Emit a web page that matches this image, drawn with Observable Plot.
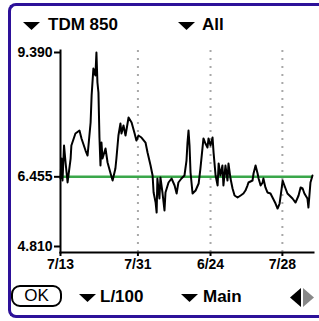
<!DOCTYPE html>
<html><head><meta charset="utf-8">
<script src="https://cdn.jsdelivr.net/npm/d3@7"></script>
<script src="https://cdn.jsdelivr.net/npm/@observablehq/plot@0.6"></script>
<style>
html,body{margin:0;padding:0;background:#fff;width:319px;height:321px;overflow:hidden;}
#wrap{position:relative;width:319px;height:321px;font-family:"Liberation Sans",Arial,sans-serif;font-weight:bold;color:#000;overflow:hidden;}
#border{position:absolute;left:8px;top:3px;width:330px;height:309px;border:3px solid #2d1199;border-right:none;border-radius:8px 0 0 8px;}
#chart{position:absolute;left:0;top:0;}
.t{position:absolute;font-size:17px;line-height:17px;white-space:nowrap;}
.tri{position:absolute;}
#ok{position:absolute;left:11px;top:285px;width:47px;height:18px;border:2px solid #000;border-radius:9px;font-size:17px;line-height:18px;text-align:center;font-weight:normal;}
</style></head>
<body>
<div id="wrap">
  <div id="border"></div>
  <div id="chart"></div>
  <svg class="tri" style="left:23px;top:22px" width="17" height="8"><polygon points="0,0 17,0 8.5,8" fill="#000"/></svg>
  <div class="t" id="hdr1" style="left:48px;top:16px"></div>
  <svg class="tri" style="left:178px;top:22px" width="17" height="8"><polygon points="0,0 17,0 8.5,8" fill="#000"/></svg>
  <div class="t" id="hdr2" style="left:202px;top:16px"></div>
  <div id="ok"></div>
  <svg class="tri" style="left:79px;top:294px" width="17" height="8"><polygon points="0,0 17,0 8.5,8" fill="#000"/></svg>
  <div class="t" id="ftr1" style="left:100px;top:288px"></div>
  <svg class="tri" style="left:181px;top:294px" width="17" height="8"><polygon points="0,0 17,0 8.5,8" fill="#000"/></svg>
  <div class="t" id="ftr2" style="left:203px;top:288px"></div>
  <svg class="tri" style="left:290px;top:288px" width="26" height="20">
    <polygon points="11,0 11,19 0,9.5" fill="#000"/>
    <polygon points="13,0 13,19 24,9.5" fill="#888"/>
  </svg>
</div>
<script>
// ---- data ----
const headerLabels = ["TDM 850", "All"];
const footerLabels = ["OK", "L/100", "Main"];
const days = [0,0.4,0.8,1.4,2.0,2.8,4.0,4.3,5.9,7.5,
  8.3,9.9,10.7,11.9,12.3,13.0,13.8,14.2,14.6,15.0,
  15.4,15.8,16.2,16.6,17.8,18.6,19.8,20.6,21.7,22.1,
  22.9,23.7,24.1,24.9,25.7,26.9,28.1,29.3,30.0,30.8,
  32.0,33.6,34.4,35.6,36.4,36.8,37.6,38.0,38.3,39.1,
  39.5,40.3,41.1,41.5,42.7,43.9,45.1,45.9,46.6,47.8,
  49.0,49.8,50.2,50.6,51.0,51.4,52.2,53.4,54.6,55.3,
  56.1,56.5,57.3,58.1,58.5,59.3,60.1,60.5,61.3,62.1,
  62.5,63.2,64.0,64.4,65.2,66.0,66.4,67.2,68.0,68.8,
  70.0,71.2,72.3,73.1,73.9,74.3,75.9,76.3,77.1,77.9,
  78.3,79.1,79.9,80.2,81.0,81.8,83.0,83.8,85.0,85.8,
  86.6,87.4,87.8,88.5,89.7,90.5,91.7,92.9,94.1,94.9,
  95.7,96.4,97.6,98.0,98.8,99.6];
const consumption = [6.415,6.887,6.368,7.194,6.793,6.321,6.887,7.194,7.478,7.548,
  7.360,7.076,6.958,7.737,8.375,9.012,8.847,9.390,8.682,8.446,
  7.383,6.722,7.265,6.887,7.123,6.793,6.533,6.368,6.651,6.887,
  7.430,7.714,7.478,7.666,7.430,7.855,7.737,7.478,7.312,7.430,
  7.383,7.265,7.029,6.722,6.486,6.085,5.848,5.612,6.415,5.943,
  6.439,6.085,5.660,6.085,6.321,6.415,6.250,6.061,6.321,6.415,
  6.486,6.840,7.265,7.548,7.194,6.557,6.061,6.132,6.297,6.651,
  7.123,7.360,7.241,7.147,7.360,7.194,7.383,7.029,6.486,6.250,
  6.769,6.486,6.722,6.250,6.722,6.368,6.769,6.415,6.179,6.014,
  5.967,6.014,6.061,6.132,6.250,6.321,6.368,6.533,6.722,6.533,
  6.415,6.250,6.321,6.415,6.203,6.085,6.061,5.967,5.825,5.707,
  5.825,6.179,6.368,6.250,6.061,6.014,5.943,5.848,6.014,6.203,
  6.179,6.061,5.943,5.730,6.321,6.486];
const xTickPos = [0, 30.6, 59.3, 87.7];
const xTickLabels = ["7/13", "7/31", "6/24", "7/28"];
const yTicks = [4.810, 6.455, 9.390];
const average = 6.455;

document.getElementById("hdr1").textContent = headerLabels[0];
document.getElementById("hdr2").textContent = headerLabels[1];
document.getElementById("ok").textContent = footerLabels[0];
document.getElementById("ftr1").textContent = footerLabels[1];
document.getElementById("ftr2").textContent = footerLabels[2];

const data = days.map((d, i) => ({day: d, value: consumption[i]}));
const xLabelMap = new Map(xTickPos.map((p, i) => [p, xTickLabels[i]]));

const chart = Plot.plot({
  width: 319, height: 321,
  marginLeft: 60, marginRight: 6, marginTop: 50, marginBottom: 69,
  style: {background: "transparent", fontFamily: "'Liberation Sans', Arial, sans-serif", fontSize: "14px", fontWeight: "bold", color: "#000", overflow: "visible"},
  x: {domain: [0, 100], range: [60, 313]},
  y: {domain: [4.810, 9.390], range: [246, 52]},
  marks: [
    Plot.ruleX(xTickPos.slice(1), {stroke: "#a8a8a8", strokeWidth: 2, strokeDasharray: "2,6"}),
    Plot.ruleY([average], {stroke: "#3aa74a", strokeWidth: 2.5}),
    Plot.line(data, {x: "day", y: "value", stroke: "#000", strokeWidth: 2}),
    Plot.frame({anchor: "left", stroke: "#000", strokeWidth: 2}),
    Plot.frame({anchor: "bottom", stroke: "#000", strokeWidth: 2}),
    Plot.axisY({ticks: yTicks, tickFormat: d3.format(".3f"), tickSize: 6, tickPadding: 2, label: null, strokeWidth: 2}),
    Plot.axisX({ticks: xTickPos, tickFormat: d => xLabelMap.get(d), tickSize: 4, tickPadding: 3, label: null, strokeWidth: 2})
  ]
});
document.getElementById("chart").appendChild(chart);
</script>
</body></html>
